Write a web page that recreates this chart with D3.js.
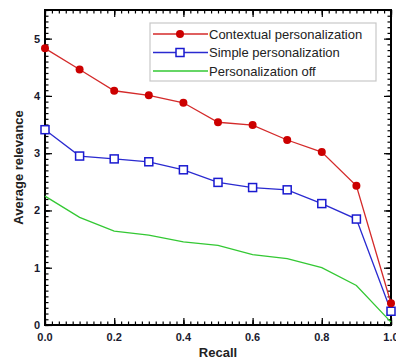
<!DOCTYPE html>
<html>
<head>
<meta charset="utf-8">
<script src="https://cdn.jsdelivr.net/npm/d3@7"></script>
<style>
  body { margin: 0; background: #fff; }
  svg { font-family: "Liberation Sans", Arial, sans-serif; }
</style>
</head>
<body>
<svg id="chart" width="396" height="362"></svg>
<script>
var recall = [0, 0.1, 0.2, 0.3, 0.4, 0.5, 0.6, 0.7, 0.8, 0.9, 1.0];
var contextual = [4.83, 4.46, 4.09, 4.01, 3.88, 3.54, 3.49, 3.23, 3.02, 2.43, 0.38];
var simple = [3.41, 2.95, 2.90, 2.85, 2.71, 2.49, 2.40, 2.36, 2.12, 1.85, 0.24];
var off = [2.25, 1.88, 1.64, 1.57, 1.45, 1.39, 1.23, 1.16, 1.00, 0.69, 0.05];
var seriesNames = ['Contextual personalization', 'Simple personalization', 'Personalization off'];
var xTickLabels = ['0.0', '0.2', '0.4', '0.6', '0.8', '1.0'];
var yTickLabels = ['0', '1', '2', '3', '4', '5'];

var margin = { left: 45, right: 5, top: 10, bottom: 37 };
var width = 396 - margin.left - margin.right;
var height = 362 - margin.top - margin.bottom;

var svg = d3.select('#chart');
var g = svg.append('g').attr('transform', 'translate(' + margin.left + ',' + margin.top + ')');

var x = d3.scaleLinear().domain([0, 1]).range([0, width]);
var y = d3.scaleLinear().domain([0, 5.5]).range([height, 0]);

// ticks, all pointing inward on four sides
function tickSet(step, lo, hi) {
  return d3.range(Math.round(lo / step), Math.round(hi / step) + 1).map(function (i) { return +(i * step).toFixed(4); });
}
var xMinor = tickSet(0.02, 0, 1);
var xMid = tickSet(0.2, 0.1, 0.9);
var xMajor = xTickLabels.map(Number);
var yMinor = tickSet(0.1, 0, 5.5);
var yMid = tickSet(1, 0.5, 5.5);
var yMajor = yTickLabels.map(Number);

function drawTicks(axisFn, scale, values, len, transform) {
  g.append('g')
    .attr('transform', transform)
    .call(axisFn(scale).tickValues(values).tickSize(-len).tickFormat(''))
    .call(function (s) { s.select('.domain').remove(); })
    .selectAll('line').attr('stroke', '#000').attr('stroke-width', 1.2);
}
[[xMinor, 3.5], [xMid, 5], [xMajor, 7]].forEach(function (p) {
  drawTicks(d3.axisBottom, x, p[0], p[1], 'translate(0,' + height + ')');
  drawTicks(d3.axisTop, x, p[0], p[1], 'translate(0,0)');
});
[[yMinor, 3.5], [yMid, 5], [yMajor, 7]].forEach(function (p) {
  drawTicks(d3.axisLeft, y, p[0], p[1], 'translate(0,0)');
  drawTicks(d3.axisRight, y, p[0], p[1], 'translate(' + width + ',0)');
});

// tick labels
g.selectAll('text.xl').data(xTickLabels).enter().append('text')
  .attr('class', 'xl')
  .attr('x', function (d) { return x(+d); })
  .attr('y', height + 16)
  .attr('text-anchor', 'middle')
  .attr('font-size', 11).attr('font-weight', 'bold').attr('fill', '#1a1a2e')
  .text(function (d) { return d; });
g.selectAll('text.yl').data(yTickLabels).enter().append('text')
  .attr('class', 'yl')
  .attr('x', -5)
  .attr('y', function (d) { return y(+d) + 4; })
  .attr('text-anchor', 'end')
  .attr('font-size', 11).attr('font-weight', 'bold').attr('fill', '#1a1a2e')
  .text(function (d) { return d; });

// frame
g.append('rect').attr('width', width).attr('height', height)
  .attr('fill', 'none').attr('stroke', '#000').attr('stroke-width', 2);

// axis titles
svg.append('text')
  .attr('x', margin.left + width / 2).attr('y', 357)
  .attr('text-anchor', 'middle').attr('font-size', 13).attr('font-weight', 'bold').attr('fill', '#222')
  .text('Recall');
svg.append('text')
  .attr('transform', 'translate(23,' + (margin.top + height / 2) + ') rotate(-90)')
  .attr('text-anchor', 'middle').attr('font-size', 13).attr('font-weight', 'bold').attr('fill', '#222')
  .text('Average relevance');

// series
var line = d3.line().x(function (d) { return x(d[0]); }).y(function (d) { return y(d[1]); });
var series = [
  { name: seriesNames[0], values: contextual, color: '#d42a2a', marker: 'dot' },
  { name: seriesNames[1], values: simple, color: '#2a2ad0', marker: 'square' },
  { name: seriesNames[2], values: off, color: '#33c833', marker: null }
];
series.slice().reverse().forEach(function (s) {
  var pts = d3.zip(recall, s.values);
  g.append('path').datum(pts).attr('d', line)
    .attr('fill', 'none').attr('stroke', s.color).attr('stroke-width', 1.3);
  if (s.marker === 'dot') {
    g.selectAll(null).data(pts).enter().append('circle')
      .attr('cx', function (d) { return x(d[0]); })
      .attr('cy', function (d) { return y(d[1]); })
      .attr('r', 4).attr('fill', '#cc0000');
  } else if (s.marker === 'square') {
    g.selectAll(null).data(pts).enter().append('rect')
      .attr('x', function (d) { return x(d[0]) - 4; })
      .attr('y', function (d) { return y(d[1]) - 4; })
      .attr('width', 8).attr('height', 8)
      .attr('fill', '#fff').attr('stroke', '#1a1ad0').attr('stroke-width', 1.5);
  }
});

// legend
var lg = svg.append('g').attr('transform', 'translate(150,23)');
lg.append('rect').attr('width', 226).attr('height', 58)
  .attr('fill', '#fff').attr('stroke', '#c8c8c8').attr('stroke-width', 1.2);
series.forEach(function (s, i) {
  var yy = 11 + i * 18.5;
  lg.append('line').attr('x1', 3).attr('x2', 58).attr('y1', yy).attr('y2', yy)
    .attr('stroke', s.color).attr('stroke-width', 1.3);
  if (s.marker === 'dot') {
    lg.append('circle').attr('cx', 30).attr('cy', yy).attr('r', 4).attr('fill', '#cc0000');
  } else if (s.marker === 'square') {
    lg.append('rect').attr('x', 26).attr('y', yy - 4).attr('width', 8).attr('height', 8)
      .attr('fill', '#fff').attr('stroke', '#1a1ad0').attr('stroke-width', 1.5);
  }
  lg.append('text').attr('x', 59).attr('y', yy + 4.5)
    .attr('font-size', 13).attr('fill', '#222')
    .text(s.name);
});
</script>
</body>
</html>
